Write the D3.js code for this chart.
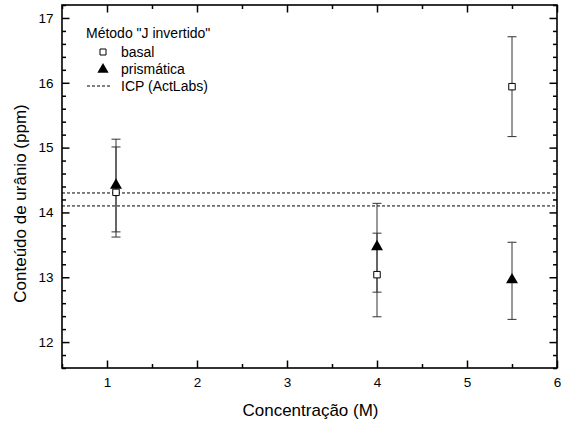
<!DOCTYPE html>
<html><head><meta charset="utf-8">
<script src="https://cdn.jsdelivr.net/npm/d3@7"></script>
<style>body{margin:0;background:#fff}svg{display:block}text{font-family:"Liberation Sans",Arial,sans-serif;fill:#000}</style>
</head><body><svg id="c" width="561" height="423"></svg>
<script>
const basalX = [1.1, 4.0, 5.5];
const basalY = [14.31, 13.04, 15.94];
const basalLow = [13.62, 12.39, 15.17];
const basalHigh = [15.01, 13.68, 16.71];
const prisX = [1.1, 4.0, 5.5];
const prisY = [14.42, 13.47, 12.96];
const prisLow = [13.70, 12.77, 12.35];
const prisHigh = [15.13, 14.14, 13.54];
const icpLines = [14.3, 14.1];
const xTicks = [1, 2, 3, 4, 5, 6];
const yTicks = [12, 13, 14, 15, 16, 17];
const legendLabels = ['basal', 'prismática', 'ICP (ActLabs)'];

const svg = d3.select('#c');
const L = 62, R = 557, T = 5, B = 368;
const x = d3.scaleLinear().domain([0.5, 6]).range([L, R]);
const y = d3.scaleLinear().domain([11.6, 17.2]).range([B, T]);

const xMinor = d3.range(0.5, 6.01, 0.5).filter(v => Math.abs(v - Math.round(v)) > 0.01);
const yMinor = d3.range(11.6, 17.21, 0.2).map(v => +v.toFixed(1)).filter(v => Math.abs(v - Math.round(v)) > 0.01);

const g = svg.append('g');
function tickAxis(axisGen, transform) {
  const a = g.append('g').attr('transform', transform).call(axisGen);
  a.select('.domain').remove();
  a.selectAll('line').attr('stroke', '#000').attr('stroke-width', 1.5);
  return a;
}
const bx = tickAxis(d3.axisBottom(x).tickValues(xTicks).tickFormat(d3.format('d')).tickSize(-7.5).tickPadding(9), `translate(0,${B})`);
bx.selectAll('text').attr('font-size', 13.5).attr('font-family', 'Liberation Sans, Arial, sans-serif');
tickAxis(d3.axisBottom(x).tickValues(xMinor).tickFormat('').tickSize(-4), `translate(0,${B})`);
tickAxis(d3.axisTop(x).tickValues(xTicks).tickFormat('').tickSize(-7.5), `translate(0,${T})`);
tickAxis(d3.axisTop(x).tickValues(xMinor).tickFormat('').tickSize(-4), `translate(0,${T})`);
const ly = tickAxis(d3.axisLeft(y).tickValues(yTicks).tickFormat(d3.format('d')).tickSize(-7.5).tickPadding(8.5), `translate(${L},0)`);
ly.selectAll('text').attr('font-size', 13.5).attr('font-family', 'Liberation Sans, Arial, sans-serif');
tickAxis(d3.axisLeft(y).tickValues(yMinor).tickFormat('').tickSize(-4), `translate(${L},0)`);
tickAxis(d3.axisRight(y).tickValues(yTicks).tickFormat('').tickSize(-7.5), `translate(${R},0)`);
tickAxis(d3.axisRight(y).tickValues(yMinor).tickFormat('').tickSize(-4), `translate(${R},0)`);

g.append('rect').attr('x', L).attr('y', T).attr('width', R - L).attr('height', B - T)
  .attr('fill', 'none').attr('stroke', '#000').attr('stroke-width', 1.6);

g.selectAll('.icp').data(icpLines).join('line')
  .attr('x1', L).attr('x2', R).attr('y1', d => y(d)).attr('y2', d => y(d))
  .attr('stroke', '#000').attr('stroke-width', 1).attr('stroke-dasharray', '3,2');

function errorBars(xs, lows, highs) {
  xs.forEach((xv, i) => {
    const cx = x(xv);
    g.append('line').attr('x1', cx).attr('x2', cx).attr('y1', y(lows[i])).attr('y2', y(highs[i]))
      .attr('stroke', '#333').attr('stroke-width', 1);
    [lows[i], highs[i]].forEach(v => {
      g.append('line').attr('x1', cx - 4.5).attr('x2', cx + 4.5).attr('y1', y(v)).attr('y2', y(v))
        .attr('stroke', '#333').attr('stroke-width', 1);
    });
  });
}
errorBars(basalX, basalLow, basalHigh);
errorBars(prisX, prisLow, prisHigh);

const sq = d3.symbol().type(d3.symbolSquare).size(42);
const tri = d3.symbol().type(d3.symbolTriangle).size(62);
basalX.forEach((xv, i) => {
  g.append('path').attr('d', sq).attr('transform', `translate(${x(xv)},${y(basalY[i])})`)
    .attr('fill', '#fff').attr('stroke', '#000').attr('stroke-width', 1);
});
prisX.forEach((xv, i) => {
  g.append('path').attr('d', tri).attr('transform', `translate(${x(xv)},${y(prisY[i])})`)
    .attr('fill', '#000');
});

const lg = svg.append('g');
lg.append('text').attr('x', 86).attr('y', 38).attr('font-size', 14).text('Método "J invertido"');
lg.append('path').attr('d', d3.symbol().type(d3.symbolSquare).size(36)).attr('transform', 'translate(103,52)')
  .attr('fill', '#fff').attr('stroke', '#000').attr('stroke-width', 1);
lg.append('text').attr('x', 121).attr('y', 57).attr('font-size', 14).text(legendLabels[0]);
lg.append('path').attr('d', d3.symbol().type(d3.symbolTriangle).size(55)).attr('transform', 'translate(103,69.5)')
  .attr('fill', '#000');
lg.append('text').attr('x', 121).attr('y', 74).attr('font-size', 14).text(legendLabels[1]);
lg.append('line').attr('x1', 87).attr('x2', 111).attr('y1', 86).attr('y2', 86)
  .attr('stroke', '#000').attr('stroke-width', 1).attr('stroke-dasharray', '3,2');
lg.append('text').attr('x', 121).attr('y', 91).attr('font-size', 14).text(legendLabels[2]);

svg.append('text').attr('x', (L + R) / 2 + 1).attr('y', 416).attr('text-anchor', 'middle').attr('font-size', 17)
  .text('Concentração (M)');
svg.append('text').attr('transform', `translate(26,${(T + B) / 2 + 17}) rotate(-90)`).attr('text-anchor', 'middle')
  .attr('font-size', 17).text('Conteúdo de urânio (ppm)');
</script></body></html>
